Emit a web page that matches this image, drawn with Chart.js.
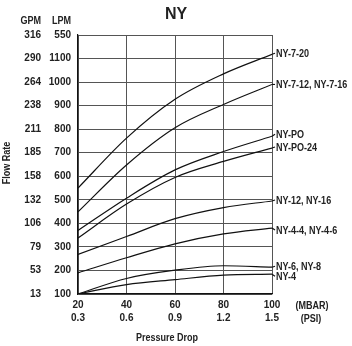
<!DOCTYPE html>
<html><head><meta charset="utf-8">
<script src="https://cdn.jsdelivr.net/npm/chart.js@4/dist/chart.umd.min.js"></script>
<style>html,body{margin:0;padding:0;background:#fff;overflow:hidden}</style>
</head><body>
<canvas id="c" width="352" height="346" style="display:block;width:352px;height:346px"></canvas>
<script>
// ---- data ----
const pressureMbar = [20, 40, 60, 80, 100];
const pressurePsi = ['0.3', '0.6', '0.9', '1.2', '1.5'];
const lpmTickValues = [100, 200, 300, 400, 500, 600, 700, 800, 900, 1000, 1100, 1200];
const lpmTickLabels = ['100', '200', '300', '400', '500', '600', '700', '800', '900', '1000', '1100', '550'];
const gpmTickLabels = ['13', '53', '79', '106', '132', '158', '185', '211', '238', '264', '290', '316'];
const seriesNames = ['NY-7-20', 'NY-7-12, NY-7-16', 'NY-PO', 'NY-PO-24', 'NY-12, NY-16', 'NY-4-4, NY-4-6', 'NY-6, NY-8', 'NY-4'];
const ny7_20 = [550, 762, 927, 1035, 1118];
const ny7_12 = [449, 648, 806, 905, 990];
const nyPO = [370, 507, 627, 705, 770];
const nyPO24 = [338, 482, 595, 663, 720];
const ny12 = [268, 344, 420, 467, 495];
const ny4_4 = [190, 254, 313, 355, 380];
const ny6 = [100, 166, 201, 220, 214];
const ny4 = [100, 140, 161, 180, 184];
const seriesValues = [ny7_20, ny7_12, nyPO, nyPO24, ny12, ny4_4, ny6, ny4];

// ---- style ----
const FAM = '"Liberation Sans", Arial, sans-serif';
const TXT = '#222';
const SQUEEZE = 0.82;
const labelNudge = [0, 1, -1, 0, 0, 3, 0, 3];

const datasets = seriesValues.map((vals, i) => ({
  label: seriesNames[i],
  data: pressureMbar.map((x, j) => ({x: x, y: vals[j]})),
  borderColor: '#111',
  borderWidth: 1.2,
  pointRadius: 0,
  fill: false,
  cubicInterpolationMode: 'monotone'
}));

function narrowText(ctx, text, x, y, align, rot) {
  ctx.save();
  ctx.translate(x, y);
  if (rot) ctx.rotate(rot);
  ctx.scale(SQUEEZE, 1);
  ctx.textAlign = align;
  ctx.fillText(text, 0, 0);
  ctx.restore();
}

const extras = {
  id: 'extras',
  afterDraw(chart) {
    const ctx = chart.ctx;
    const xs = chart.scales.x, ys = chart.scales.y;
    const area = chart.chartArea;
    ctx.save();
    ctx.fillStyle = TXT;
    ctx.textBaseline = 'middle';
    // title
    ctx.font = 'bold 16px ' + FAM;
    ctx.textAlign = 'center';
    ctx.fillText('NY', 176, 15);
    // headers
    ctx.font = 'bold 11px ' + FAM;
    narrowText(ctx, 'GPM', 41, 21, 'right');
    narrowText(ctx, 'LPM', 71, 21, 'right');
    // units
    narrowText(ctx, '(MBAR)', 312, 306, 'center');
    narrowText(ctx, '(PSI)', 311, 319, 'center');
    // axis titles
    narrowText(ctx, 'Pressure Drop', 167, 338, 'center');
    narrowText(ctx, 'Flow Rate', 7, 163, 'center', -Math.PI / 2);
    // curve labels with leaders
    ctx.strokeStyle = '#111';
    ctx.lineWidth = 1.1;
    seriesValues.forEach((vals, i) => {
      const last = vals[vals.length - 1];
      const px = xs.getPixelForValue(pressureMbar[pressureMbar.length - 1]);
      const py = ys.getPixelForValue(last);
      const ly = py + labelNudge[i];
      ctx.beginPath();
      ctx.moveTo(px, py);
      ctx.lineTo(px + 3, ly - 1);
      ctx.stroke();
      narrowText(ctx, seriesNames[i], area.right + 4, ly, 'left');
    });
    ctx.restore();
  }
};

const tickFont = { family: FAM, weight: 'bold', size: 10 };

new Chart(document.getElementById('c'), {
  type: 'line',
  data: { datasets: datasets },
  options: {
    responsive: false,
    animation: false,
    events: [],
    layout: { padding: { top: 35, right: 80, bottom: 0, left: 0 } },
    plugins: { legend: { display: false }, tooltip: { enabled: false }, title: { display: false } },
    scales: {
      x: {
        type: 'linear', min: 20, max: 100,
        afterBuildTicks(s) { s.ticks = pressureMbar.map(v => ({value: v})); },
        afterFit(s) { s.height = 52; },
        grid: { color: '#555', lineWidth: 1, drawTicks: false },
        border: { color: '#111', width: 1.2 },
        ticks: {
          padding: 5, color: TXT, maxRotation: 0, autoSkip: false,
          font: { family: FAM, weight: 'bold', size: 10, lineHeight: 1.3 },
          callback(v) { const i = pressureMbar.indexOf(v); return i < 0 ? '' : [String(v), pressurePsi[i]]; }
        }
      },
      y: {
        type: 'linear', position: 'left', min: 100, max: 1200, weight: 0,
        afterBuildTicks(s) { s.ticks = lpmTickValues.map(v => ({value: v})); },
        afterFit(s) { s.width = 33; },
        grid: { color: '#555', lineWidth: 1, drawTicks: false },
        border: { color: '#111', width: 1.2 },
        ticks: {
          padding: 7, color: TXT, autoSkip: false, font: tickFont,
          callback(v) { const i = lpmTickValues.indexOf(v); return i < 0 ? '' : lpmTickLabels[i]; }
        }
      },
      y2: {
        type: 'linear', position: 'left', min: 100, max: 1200, weight: 1,
        afterBuildTicks(s) { s.ticks = lpmTickValues.map(v => ({value: v})); },
        afterFit(s) { s.width = 45; },
        grid: { display: false, drawTicks: false },
        border: { display: false },
        ticks: {
          padding: 4, color: TXT, autoSkip: false, font: tickFont,
          callback(v) { const i = lpmTickValues.indexOf(v); return i < 0 ? '' : gpmTickLabels[i]; }
        }
      }
    }
  },
  plugins: [extras]
});
</script>
</body></html>
